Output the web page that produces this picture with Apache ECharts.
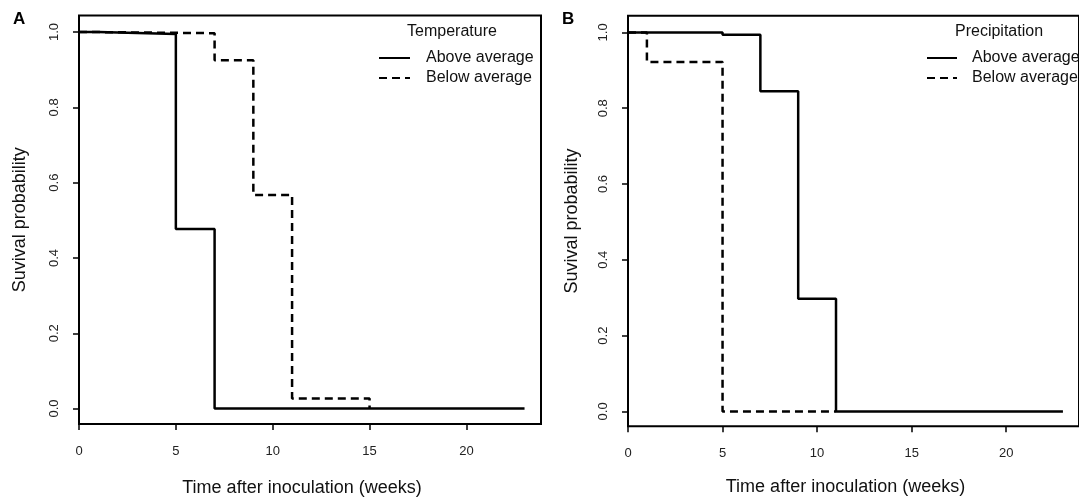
<!DOCTYPE html>
<html><head><meta charset="utf-8">
<script src="https://cdn.jsdelivr.net/npm/echarts@6/dist/echarts.min.js"></script>
<style>html,body{margin:0;padding:0;background:#fff}#c{width:1079px;height:502px}</style>
</head><body><div id="c"></div>
<script>
// Panel A – Temperature
var tA_above = [0, 1, 5, 7, 23];
var sA_above = [1.0, 0.995, 0.477, 0, 0];
var tA_below = [0, 1, 7, 9, 11, 15];
var sA_below = [1.0, 0.997, 0.925, 0.567, 0.027, 0];
// Panel B – Precipitation
var tB_above = [0, 5, 7, 9, 11, 23];
var sB_above = [1.0, 0.994, 0.845, 0.297, 0, 0];
var tB_below = [0, 1, 5, 11];
var sB_below = [1.0, 0.922, 0, 0];

var xTicks = [0, 5, 10, 15, 20];
var yTicks = [0, 0.2, 0.4, 0.6, 0.8, 1.0];
var seriesNames = ['Above average', 'Below average'];
var legendTitles = ['Temperature', 'Precipitation'];
var panelLabels = ['A', 'B'];
var xTitle = 'Time after inoculation (weeks)';
var yTitle = 'Suvival probability';

function pairs(t, s) { return t.map(function (v, i) { return [v, s[i]]; }); }

var FONT = '"Liberation Sans", Arial, sans-serif';
var grids = [
  { left: 79, top: 15.5, width: 462, height: 415.2 },
  { left: 628, top: 15.7, width: 460, height: 410.5 }
];
var yRange = [[-0.041, 1.044], [-0.039, 1.044]];
var yNameGap = [50, 47];
var xNameGap = [55, 52];
var xAxes = [], yAxes = [];
grids.forEach(function (g, i) {
  g.show = true; g.borderColor = '#000'; g.borderWidth = 2; g.backgroundColor = 'transparent';
  g.containLabel = false;
  xAxes.push({
    gridIndex: i, type: 'value', min: 0, max: 23.85,
    name: xTitle, nameLocation: 'middle', nameGap: xNameGap[i],
    nameTextStyle: { fontFamily: FONT, fontSize: 18, color: '#111', padding: [0, 16, 0, 0] },
    axisLine: { show: false, onZero: false },
    axisTick: { show: true, length: 6, lineStyle: { color: '#000', width: 1.5 }, customValues: xTicks },
    axisLabel: { fontFamily: FONT, fontSize: 13, color: '#222', margin: 21, customValues: xTicks },
    splitLine: { show: false }
  });
  yAxes.push({
    gridIndex: i, type: 'value', min: yRange[i][0], max: yRange[i][1],
    name: yTitle, nameLocation: 'middle', nameGap: yNameGap[i], nameRotate: 90,
    nameTextStyle: { fontFamily: FONT, fontSize: 18, color: '#111' },
    axisLine: { show: false, onZero: false },
    axisTick: { show: true, length: 6, lineStyle: { color: '#000', width: 1.5 }, customValues: yTicks },
    axisLabel: { fontFamily: FONT, fontSize: 13, color: '#222', margin: 18, rotate: 90,
      customValues: yTicks, formatter: function (v) { return v.toFixed(1); } },
    splitLine: { show: false }
  });
});

function mk(name, idx, data, dashed) {
  return {
    name: name, type: 'line', xAxisIndex: idx, yAxisIndex: idx, step: 'end',
    data: data, symbol: 'none', showSymbol: false, silent: true, animation: false,
    lineStyle: { color: '#000', width: 2.5, type: dashed ? [8, 5] : 'solid' },
    itemStyle: { color: '#000' }
  };
}
var series = [
  mk(seriesNames[0], 0, pairs(tA_above, sA_above), false),
  mk(seriesNames[1], 0, pairs(tA_below, sA_below), true),
  mk(seriesNames[0] + ' ', 1, pairs(tB_above, sB_above), false),
  mk(seriesNames[1] + ' ', 1, pairs(tB_below, sB_below), true)
];

function legendText(pad) {
  return { fontFamily: FONT, fontSize: 16, lineHeight: 16, color: '#111', padding: [0, 0, 0, pad] };
}
var legendCommon = {
  orient: 'vertical', top: 50, padding: 0, itemHeight: 16, itemGap: 4, selectedMode: false,
  itemStyle: { color: 'rgba(0,0,0,0)', borderColor: 'rgba(0,0,0,0)', borderWidth: 0, opacity: 0 },
  lineStyle: { width: 2 }
};
var option = {
  backgroundColor: '#fff',
  animation: false,
  grid: grids, xAxis: xAxes, yAxis: yAxes, series: series,
  legend: [
    Object.assign({}, legendCommon, { left: 378, itemWidth: 31, textStyle: legendText(11),
      data: [seriesNames[0], seriesNames[1]] }),
    Object.assign({}, legendCommon, { left: 926, itemWidth: 30, textStyle: legendText(10),
      data: [seriesNames[0] + ' ', seriesNames[1] + ' '] })
  ],
  title: [
    { text: legendTitles[0], left: 452, top: 24, textAlign: 'center', padding: 0,
      textStyle: { fontFamily: FONT, fontSize: 16, fontWeight: 'normal', color: '#111' } },
    { text: legendTitles[1], left: 999, top: 24, textAlign: 'center', padding: 0,
      textStyle: { fontFamily: FONT, fontSize: 16, fontWeight: 'normal', color: '#111' } },
    { text: panelLabels[0], left: 13, top: 11, padding: 0,
      textStyle: { fontFamily: FONT, fontSize: 17, fontWeight: 'bold', color: '#000' } },
    { text: panelLabels[1], left: 562, top: 11, padding: 0,
      textStyle: { fontFamily: FONT, fontSize: 17, fontWeight: 'bold', color: '#000' } }
  ]
};
var chart = echarts.init(document.getElementById('c'), null, { renderer: 'canvas' });
chart.setOption(option);
</script></body></html>
